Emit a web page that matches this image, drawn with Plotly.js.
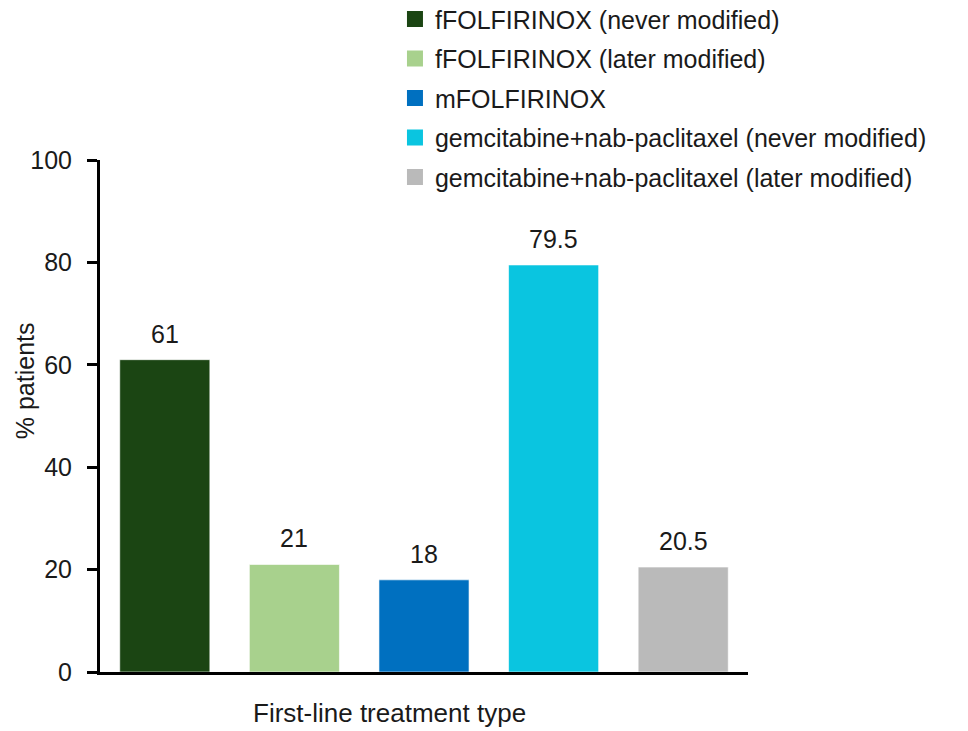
<!DOCTYPE html>
<html>
<head>
<meta charset="utf-8">
<script src="https://cdn.plot.ly/plotly-3.0.1.min.js"></script>
<style>html,body{margin:0;padding:0;background:#fff;}#chart{width:968px;height:731px;}</style>
</head>
<body>
<div id="chart"></div>
<script>
const categories = [
  "fFOLFIRINOX (never modified)",
  "fFOLFIRINOX (later modified)",
  "mFOLFIRINOX",
  "gemcitabine+nab-paclitaxel (never modified)",
  "gemcitabine+nab-paclitaxel (later modified)"
];
const values = [61, 21, 18, 79.5, 20.5];
const valueLabels = ["61", "21", "18", "79.5", "20.5"];
const colors = ["#1b4513", "#a8d18d", "#0070c0", "#0ac5e0", "#bababa"];
const yTicks = [0, 20, 40, 60, 80, 100];

const FONT = "Arial, 'Liberation Sans', sans-serif";
const TXT = "#1a1a1a";

const barTraces = categories.map((c, i) => ({
  type: "bar",
  name: c,
  showlegend: false,
  x: [c],
  y: [values[i]],
  width: 0.695,
  marker: {color: colors[i], line: {color: "rgba(255,255,255,0.6)", width: 1}},
  hoverinfo: "skip"
}));

// legend entries (square swatches)
const legendTraces = categories.map((c, i) => ({
  type: "scatter", mode: "markers",
  name: c, legendgroup: "g" + i, showlegend: true,
  x: [null], y: [null],
  marker: {symbol: "square", size: 16, color: colors[i], line: {width: 0}},
  hoverinfo: "skip"
}));

const annotations = categories.map((c, i) => ({
  x: c, y: values[i], xref: "x", yref: "y",
  text: valueLabels[i], showarrow: false,
  yanchor: "bottom", yshift: 10,
  font: {family: FONT, size: 25, color: TXT}
}));

annotations.push({
  xref: "paper", yref: "paper", x: 0.4475, y: -0.08,
  xanchor: "center", yanchor: "middle",
  text: "First-line treatment type", showarrow: false,
  font: {family: FONT, size: 26, color: TXT}
});
annotations.push({
  xref: "paper", yref: "paper", x: -0.1157, y: 0.568,
  xanchor: "center", yanchor: "middle", textangle: -90,
  text: "% patients", showarrow: false,
  font: {family: FONT, size: 25, color: TXT}
});

const layout = {
  width: 968, height: 731,
  margin: {l: 100, r: 220, t: 160, b: 59, pad: 0, autoexpand: false},
  paper_bgcolor: "#ffffff", plot_bgcolor: "#ffffff",
  font: {family: FONT, size: 25, color: TXT},
  barmode: "overlay",
  showlegend: true,
  legend: {
    x: 0.4552, y: 1.320, xanchor: "left", yanchor: "top",
    traceorder: "grouped", tracegroupgap: 4,
    font: {family: FONT, size: 25, color: TXT},
    bgcolor: "rgba(0,0,0,0)", borderwidth: 0
  },
  xaxis: {
    type: "category", categoryorder: "array", categoryarray: categories,
    range: [-0.5, 4.5], showticklabels: false, ticks: "",
    showline: true, linecolor: "#000", linewidth: 3,
    showgrid: false, zeroline: false, fixedrange: true
  },
  yaxis: {
    range: [0, 100], tickvals: yTicks, ticktext: yTicks.map(String),
    ticks: "outside", ticklen: 10, tickwidth: 3, tickcolor: "#000",
    ticklabelstandoff: 10,
    showline: true, linecolor: "#000", linewidth: 3,
    showgrid: false, zeroline: false, fixedrange: true,
    tickfont: {family: FONT, size: 25, color: TXT}
  },
  annotations: annotations
};

Plotly.newPlot("chart", barTraces.concat(legendTraces), layout, {displayModeBar: false, staticPlot: true});
</script>
</body>
</html>
